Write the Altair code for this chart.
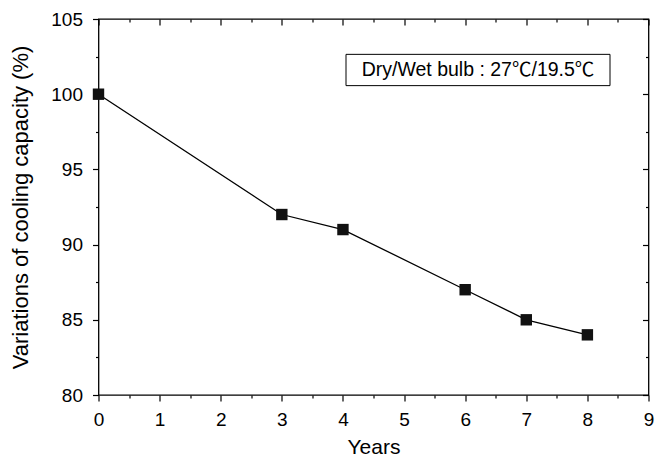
import altair as alt
import pandas as pd

# ---- data ----
years = [0, 3, 4, 6, 7, 8]
capacity = [100, 92, 91, 87, 85, 84]

x_major = [0, 1, 2, 3, 4, 5, 6, 7, 8, 9]
x_minor = [0.5, 1.5, 2.5, 3.5, 4.5, 5.5, 6.5, 7.5, 8.5]
y_major = [80, 85, 90, 95, 100, 105]
y_minor = [82.5, 87.5, 92.5, 97.5, 102.5]

note_text = ["Dry/Wet bulb : 27\u2103/19.5\u2103"]
note_x = [6.21]
note_y = [101.6]
box_x = [4.05]
box_x2 = [8.37]
box_y = [102.65]
box_y2 = [100.57]

df = pd.DataFrame({"Years": years, "cap": capacity})
note = pd.DataFrame({"x": note_x, "y": note_y, "label": note_text,
                     "x0": box_x, "x1": box_x2, "y0": box_y, "y1": box_y2})

FONT = "Liberation Sans, Arial, 'Noto Sans CJK SC', sans-serif"
xs = alt.Scale(domain=[0, 9], nice=False, zero=False)
ys = alt.Scale(domain=[80, 105], nice=False, zero=False)


def plain_axis(orient, values, size, offset=0):
    return alt.Axis(orient=orient, values=values, tickSize=size, offset=offset,
                    labels=False, title=None, domain=False, grid=False)


box = alt.Chart(note).mark_rect(fill="white", stroke="black", strokeWidth=1).encode(
    x=alt.X("x0:Q", scale=xs, axis=plain_axis("top", x_major, 6, -6)),
    x2="x1:Q",
    y=alt.Y("y0:Q", scale=ys, axis=plain_axis("right", y_major, 6, -6)),
    y2="y1:Q",
)

text = alt.Chart(note).mark_text(fontSize=19.5, font=FONT, color="black").encode(
    x=alt.X("x:Q", scale=xs, axis=plain_axis("top", x_minor, 3, -3)),
    y=alt.Y("y:Q", scale=ys, axis=plain_axis("right", y_minor, 3, -3)),
    text="label:N",
)

line = alt.Chart(df).mark_line(color="black", strokeWidth=1.3).encode(
    x=alt.X("Years:Q", scale=xs,
            axis=alt.Axis(orient="bottom", values=x_major, tickSize=6, format="d",
                          labelFontSize=19, labelPadding=9, labelFlush=False,
                          title="Years", titleFontSize=21, titlePadding=7,
                          domain=False, grid=False)),
    y=alt.Y("cap:Q", scale=ys,
            axis=alt.Axis(orient="left", values=y_major, tickSize=6, format="d",
                          labelFontSize=19, labelPadding=10, labelFlush=False,
                          title="Variations of cooling capacity (%)",
                          titleFontSize=22, titlePadding=18, domain=False, grid=False)),
)

points = alt.Chart(df).mark_square(size=130, color="#111111", opacity=1).encode(
    x=alt.X("Years:Q", scale=xs, axis=plain_axis("bottom", x_minor, 3)),
    y=alt.Y("cap:Q", scale=ys, axis=plain_axis("left", y_minor, 3)),
)

chart = (
    alt.layer(box, text, line, points)
    .resolve_axis(x="independent", y="independent")
    .properties(
        width=550, height=376,
        autosize=alt.AutoSizeParams(type="none"),
        padding={"left": 90.5, "top": 11, "right": 12, "bottom": 62},
    )
    .configure_view(stroke="black", strokeWidth=1.3)
    .configure_axis(tickColor="black", tickWidth=1.2, labelColor="black",
                    titleColor="black", labelFont=FONT, titleFont=FONT,
                    titleFontWeight="normal")
)

chart.save("out.html", embed_options={"renderer": "svg", "actions": False})
